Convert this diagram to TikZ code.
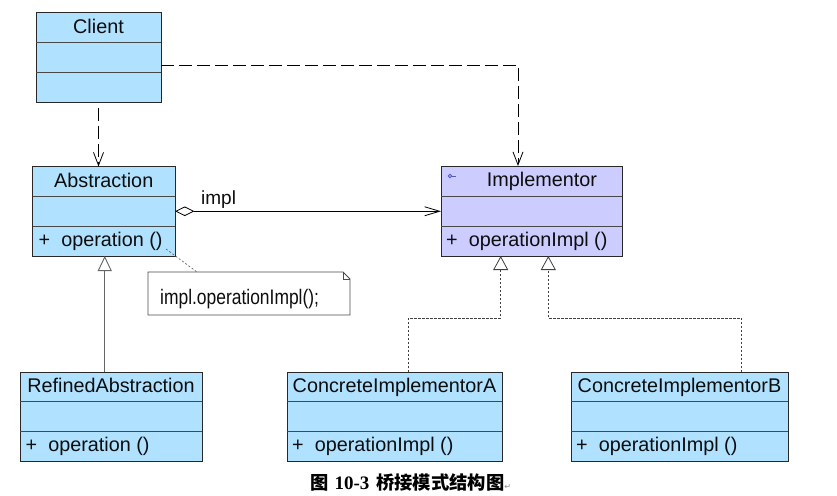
\documentclass[tikz,border=0pt]{standalone}
\usepackage{fontspec}
\setmainfont{Liberation Sans}
\newfontfamily\cjk{Noto Sans CJK SC}
\newfontfamily\capserif{Liberation Serif}
\newfontfamily\symfont{DejaVu Sans}
\usetikzlibrary{arrows.meta}
\definecolor{clsblue}{RGB}{176,226,255}
\definecolor{clsviolet}{RGB}{204,204,255}
\definecolor{boxline}{RGB}{40,40,40}
\definecolor{iconblue}{RGB}{80,90,190}
\tikzset{
  classbox/.style={draw=boxline, line width=1pt, inner sep=0pt, outer sep=0pt},
  sepline/.style={draw=boxline!85, line width=0.9pt},
  clstext/.style={anchor=base, inner sep=0pt, font=\fontsize{19.8}{22}\selectfont, text=black!95},
  dep/.style={draw=black, line width=0.8pt, dash pattern=on 13pt off 5pt,
    -{Straight Barb[length=13pt,width=10pt]}},
  agg/.style={draw=black, line width=0.8pt,
    {Diamond[open,length=19.5pt,width=9.5pt,fill=white]}-{Straight Barb[length=15pt,width=9pt]}},
  gen/.style={draw=black!60, line width=0.9pt, -{Triangle[open,length=15pt,width=14pt,fill=white]}},
  real/.style={draw=black!75, line width=0.8pt, dash pattern=on 2.5pt off 1.5pt,
    -{Triangle[open,length=14pt,width=15pt,fill=white]}},
  notelink/.style={draw=black!60, line width=0.7pt, dash pattern=on 2pt off 2pt},
  notebox/.style={inner sep=0pt, outer sep=0pt, draw=none},
}
% name, left, top, right, bottom, sep1, sep2, fill, title
\newcommand\umlclass[9]{%
  \node[classbox, fill=#8, minimum width={#4-#2}, minimum height={#5-#3}] (#1) at ({(#2+#4)/2},{(#3+#5)/2}) {};
  \draw[sepline] (#2,#6) -- (#4,#6);
  \draw[sepline] (#2,#7) -- (#4,#7);
  \node[clstext] (#1-title) at ({(#2+#4)/2},{#3+20.8}) {#9};
}
\begin{document}
\begin{tikzpicture}[x=1pt,y=-1pt]
\fill[white] (0,0) rectangle (837,495);
\useasboundingbox (0,0) rectangle (837,495);

% classes
\umlclass{client}{36}{13}{161}{102}{42.3}{72.5}{clsblue}{Client}
\umlclass{abstraction}{32.5}{166.5}{175}{256}{196.5}{226}{clsblue}{Abstraction}
\node[clstext, anchor=base west] (abstraction-op) at (38.5,246) {+\ \ operation ()};
\umlclass{implementor}{441}{166}{622}{256}{196.7}{226}{clsviolet}{\hspace*{21pt}Implementor}
\node[clstext, anchor=base west] (implementor-op) at (446,246) {+\ \ operationImpl ()};
\draw[draw=iconblue, line width=0.8pt] (450,176) circle (1.8pt);
\draw[draw=iconblue, line width=0.8pt] (451.8,176) -- (456.2,176);

\umlclass{refined}{20}{372}{202}{461}{401.7}{431}{clsblue}{RefinedAbstraction}
\node[clstext, anchor=base west] (refined-op) at (25.5,451.5) {+\ \ operation ()};
\umlclass{concA}{287}{372}{502}{461}{401.7}{431}{clsblue}{ConcreteImplementorA}
\node[clstext, anchor=base west] (concA-op) at (292,451.5) {+\ \ operationImpl ()};
\umlclass{concB}{571}{372}{788}{461}{401.7}{431}{clsblue}{ConcreteImplementorB}
\node[clstext, anchor=base west] (concB-op) at (576,451.5) {+\ \ operationImpl ()};

% note
\node[notebox, minimum width=202pt, minimum height=43pt] (note) at (249,293.5) {};
\draw[draw=black!70, line width=0.8pt, fill=white]
  (note.north west) -- ([xshift=-7pt]note.north east) -- ([yshift=-7pt]note.north east)
  -- (note.south east) -- (note.south west) -- cycle;
\draw[draw=black!70, line width=0.6pt]
  ([xshift=-7pt]note.north east) -- ([xshift=-7pt,yshift=-7pt]note.north east) -- ([yshift=-7pt]note.north east);
\node[anchor=base west, inner sep=0pt, font=\fontsize{21}{22}\selectfont, text=black!95] (notetext) at (160,304)
  {\scalebox{0.83}[1]{impl.operationImpl();}};
\coordinate (opend) at (166,249);
\draw[notelink] (opend) -- ([xshift=49pt]note.north west);

% connectors
\draw[dep] ([yshift=-6pt]client.south) -- (client.south |- abstraction.north);
\draw[dep] ([yshift=-7.5pt]client.east) -| ([xshift=-13.5pt]implementor.north);
\draw[agg] (abstraction.east) -- (abstraction.east -| implementor.west);
\node[clstext, anchor=base west, font=\fontsize{19}{22}\selectfont] (impl) at (201,204) {impl};
\draw[gen] ([xshift=1pt]refined.north -| abstraction.south) -- ([xshift=1pt]abstraction.south);
\draw[real] ([xshift=13.8pt]concA.north) |- ([xshift=-30.8pt,yshift=-62pt]implementor.south) -- ([xshift=-30.8pt]implementor.south);
\draw[real] ([xshift=62.2pt]concB.north) |- ([xshift=16.8pt,yshift=-62pt]implementor.south) -- ([xshift=16.8pt]implementor.south);

% caption
\node[anchor=base west, inner sep=0pt] (caption) at (310.5,489)
  {{\cjk\bfseries\fontsize{18.3}{20}\selectfont 图}\hspace{5.5pt}{\capserif\bfseries\fontsize{19}{20}\selectfont 10-3}\hspace{7pt}{\cjk\bfseries\fontsize{18.3}{20}\selectfont 桥接模式结构图}{\symfont\fontsize{8}{10}\selectfont\color{black!45}↵}};
\end{tikzpicture}
\end{document}
